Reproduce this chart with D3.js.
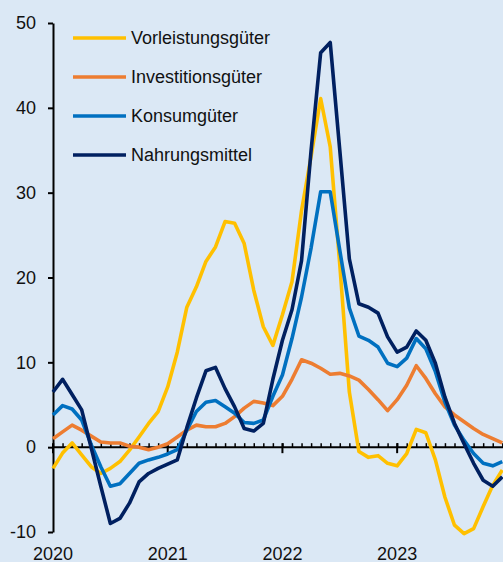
<!DOCTYPE html>
<html>
<head>
<meta charset="utf-8">
<script src="https://cdn.jsdelivr.net/npm/d3@7"></script>
<style>
  body { margin: 0; background: #dbe8f5; }
  svg { display: block; }
  text { font-family: "Liberation Sans", Arial, sans-serif; fill: #111; }
</style>
</head>
<body>
<script>

// monthly values, Jan 2020 - Dec 2023
var years = ["2020", "2021", "2022", "2023"];
var seriesNames = ["Vorleistungsgüter", "Investitionsgüter", "Konsumgüter", "Nahrungsmittel"];
var seriesColors = ["#ffc000", "#ed7d31", "#0070c0", "#002060"];
var yTicks = [-10, 0, 10, 20, 30, 40, 50];

var vorleistung = [-2.5, -0.7, 0.5, -0.9, -2.3, -3.1, -2.5, -1.7, -0.35, 1.2, 2.8, 4.2,
                   7.1, 11.2, 16.5, 18.9, 21.9, 23.6, 26.6, 26.4, 24.0, 18.5, 14.2, 12.0,
                   15.6, 19.5, 27.9, 34.3, 41.1, 35.4, 21.5, 6.5, -0.5, -1.2, -1.0, -1.9,
                   -2.2, -0.75, 2.1, 1.7, -1.5, -5.9, -9.2, -10.2, -9.6, -7.0, -4.5, -2.7];
var investition = [1.0, 1.8, 2.6, 2.0, 1.3, 0.6, 0.5, 0.5, 0.1, 0, -0.3, 0,
                   0.4, 1.2, 2.0, 2.6, 2.4, 2.4, 2.8, 3.6, 4.6, 5.4, 5.2, 4.9,
                   6.0, 8.0, 10.3, 9.9, 9.3, 8.6, 8.7, 8.4, 7.9, 6.8, 5.6, 4.3,
                   5.6, 7.3, 9.6, 8.1, 6.3, 4.75, 3.8, 3.0, 2.2, 1.5, 1.0, 0.5];
var konsum = [3.8, 4.9, 4.5, 3.2, 0.3, -2.3, -4.6, -4.3, -3.1, -1.9, -1.5, -1.2,
              -0.8, -0.3, 2.0, 4.2, 5.3, 5.5, 4.75, 4.0, 2.9, 2.8, 3.2, 6.0,
              8.5, 12.8, 17.7, 23.5, 30.1, 30.1, 23.2, 16.4, 13.1, 12.6, 11.8, 9.9,
              9.5, 10.5, 12.8, 11.6, 8.9, 5.3, 2.6, 0.8, -0.75, -1.9, -2.2, -1.7];
var nahrung = [6.5, 8.0, 6.2, 4.4, -0.1, -4.6, -9.0, -8.4, -6.6, -4.1, -3.1, -2.5,
               -2.0, -1.5, 2.3, 5.8, 9.0, 9.4, 6.9, 4.75, 2.2, 1.9, 2.8, 8.0,
               12.6, 16.2, 22.0, 35.0, 46.5, 47.7, 35.0, 22.2, 16.9, 16.5, 15.8, 13.0,
               11.2, 11.8, 13.7, 12.6, 9.9, 5.9, 2.8, 0.4, -1.9, -3.9, -4.6, -3.5];

var allSeries = [vorleistung, investition, konsum, nahrung];

var width = 503, height = 562;

var svg = d3.select("body").append("svg")
            .attr("width", width)
            .attr("height", height);

svg.append("rect")
   .attr("width", width)
   .attr("height", height)
   .attr("fill", "#dbe8f5");

var x = d3.scaleLinear().domain([0, 47]).range([53, 502.3]);
var y = d3.scaleLinear().domain([-10, 50]).range([532, 23]);

// y axis, plain hyphen for negatives like the source
var yAxis = svg.append("g")
               .attr("transform", "translate(53,0)")
               .call(d3.axisLeft(y)
                       .tickValues(yTicks)
                       .tickSize(5)
                       .tickSizeOuter(0)
                       .tickPadding(12)
                       .tickFormat(function(d){ return String(d); }));
yAxis.select(".domain").attr("stroke", "#000").attr("stroke-width", 2);
yAxis.selectAll(".tick line").attr("stroke", "#000").attr("stroke-width", 2);
yAxis.selectAll(".tick text").attr("font-size", 18).attr("font-family", "Liberation Sans, Arial, sans-serif").attr("fill", "#111");

// x axis at zero, monthly minor ticks, yearly major ticks
var months = d3.range(0, 48);
var xAxis = svg.append("g").attr("transform", "translate(0," + y(0) + ")");
xAxis.call(d3.axisBottom(x).tickValues(months).tickSize(-4).tickSizeOuter(0).tickFormat(""));
xAxis.select(".domain").attr("d", "M53,0H503").attr("stroke", "#000").attr("stroke-width", 2);
xAxis.selectAll(".tick line").attr("stroke", "#000").attr("stroke-width", 1.5);

xAxis.selectAll(".major")
     .data(years)
     .enter().append("line")
     .attr("x1", function(d, i){ return x(i * 12); })
     .attr("x2", function(d, i){ return x(i * 12); })
     .attr("y1", -4)
     .attr("y2", 6)
     .attr("stroke", "#000")
     .attr("stroke-width", 2);

svg.selectAll(".year")
   .data(years)
   .enter().append("text")
   .attr("x", function(d, i){ return x(i * 12); })
   .attr("y", 560)
   .attr("text-anchor", "middle")
   .attr("font-size", 18)
   .text(function(d){ return d; });

// series lines
var line = d3.line()
             .x(function(d, i){ return x(i); })
             .y(function(d){ return y(d); });

svg.selectAll(".series")
   .data(allSeries)
   .enter().append("path")
   .attr("d", line)
   .attr("fill", "none")
   .attr("stroke", function(d, i){ return seriesColors[i]; })
   .attr("stroke-width", 3.6)
   .attr("stroke-linejoin", "round");

// legend
var legend = svg.selectAll(".legend")
                .data(seriesNames)
                .enter().append("g")
                .attr("transform", function(d, i){ return "translate(0," + (38 + i * 39) + ")"; });

legend.append("line")
      .attr("x1", 73)
      .attr("x2", 126)
      .attr("stroke", function(d, i){ return seriesColors[i]; })
      .attr("stroke-width", 3.6);

legend.append("text")
      .attr("x", 131)
      .attr("dy", "0.35em")
      .attr("font-size", 18)
      .text(function(d){ return d; });

</script>
</body>
</html>
